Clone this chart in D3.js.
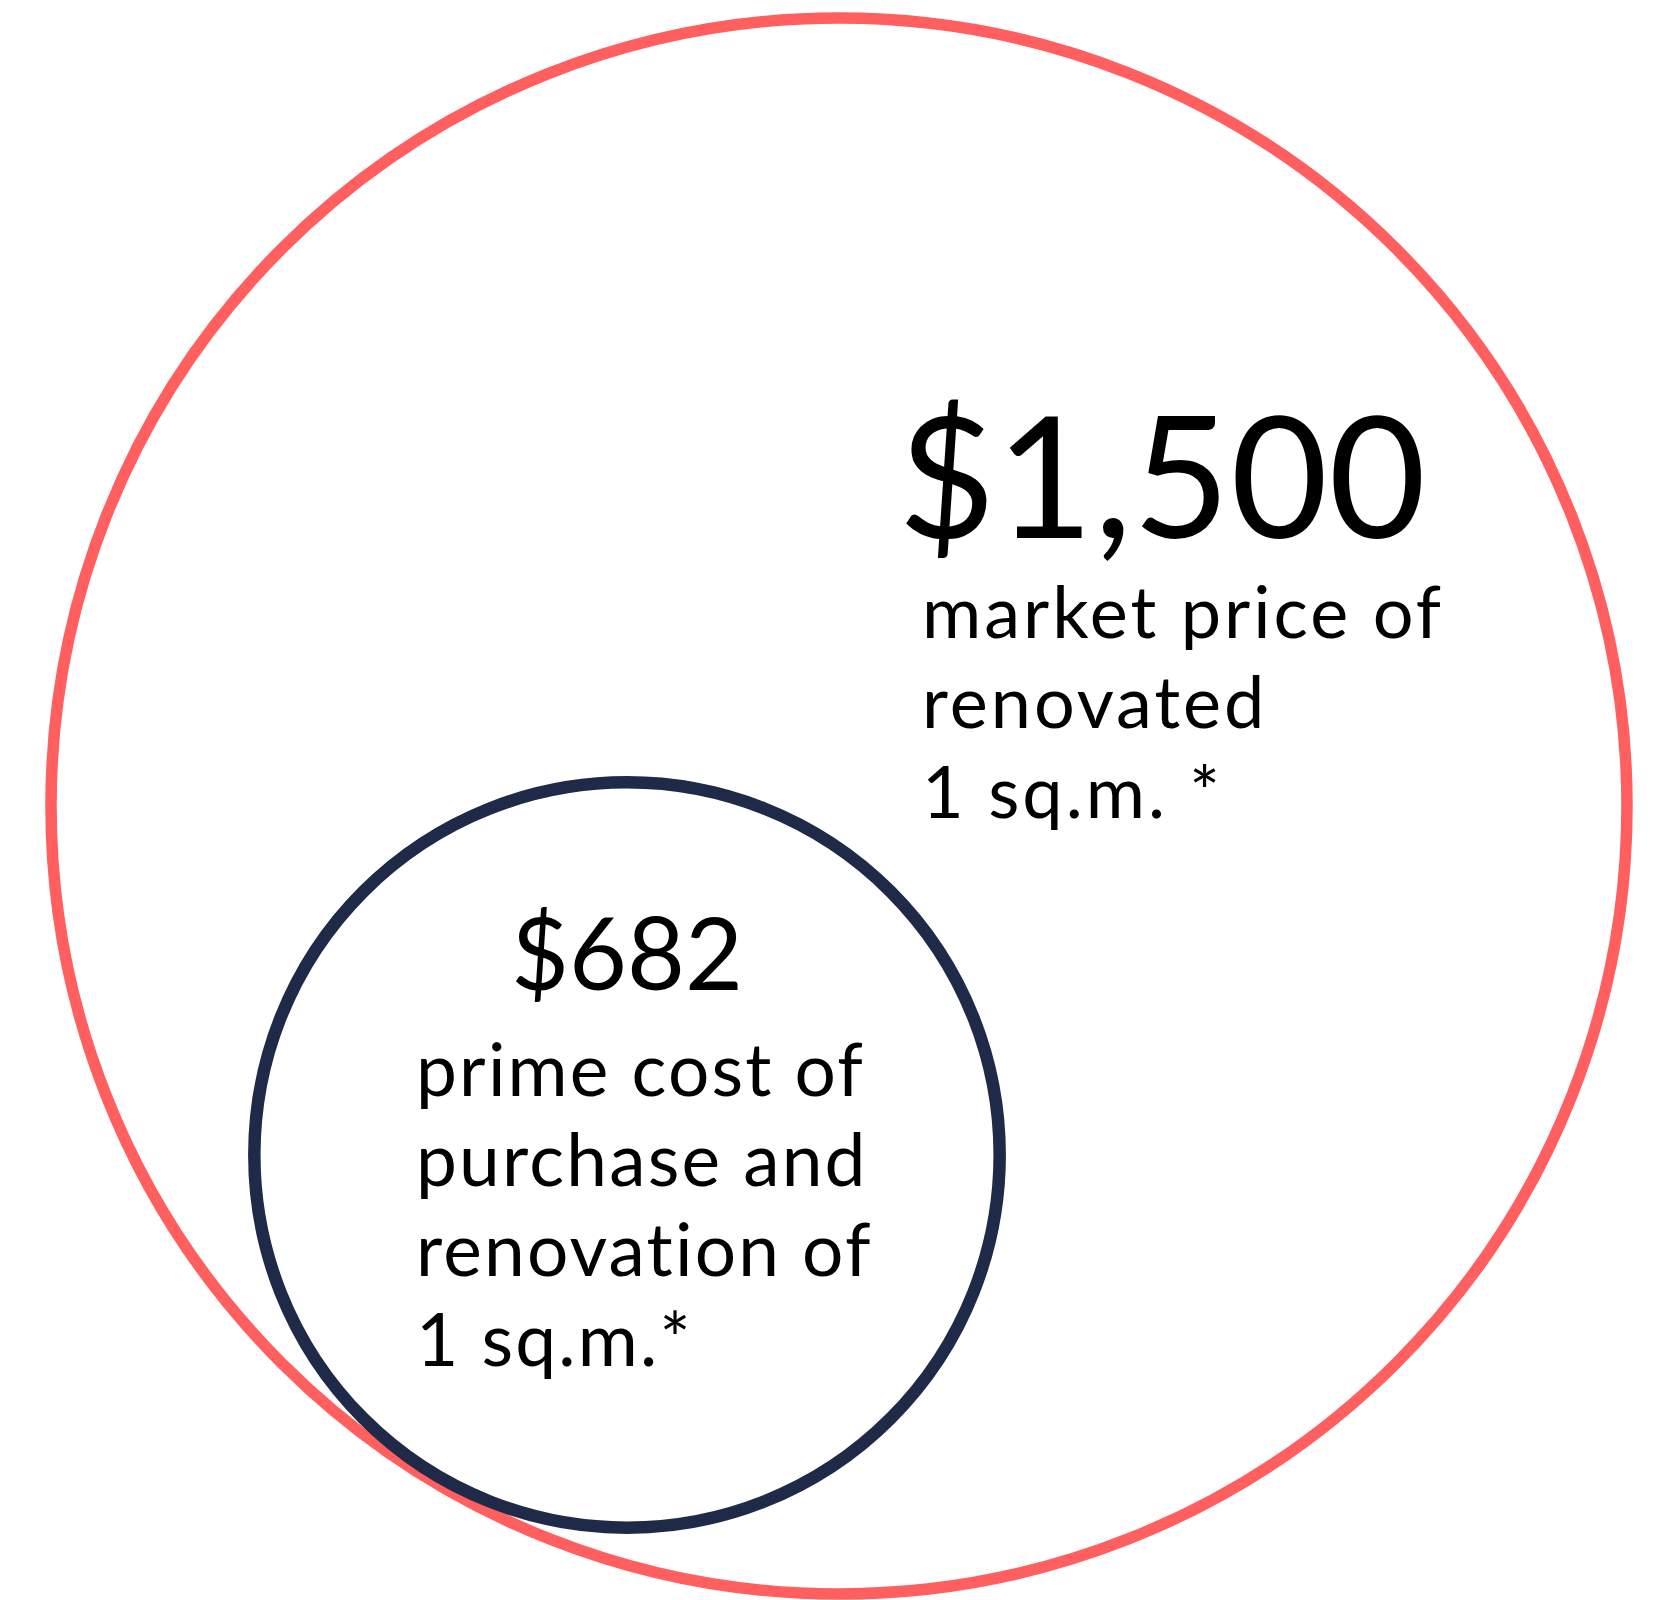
<!DOCTYPE html>
<html>
<head>
<meta charset="utf-8">
<script src="https://cdn.jsdelivr.net/npm/d3@7"></script>
<style>
  html, body { margin: 0; padding: 0; background: #fff; }
  svg { display: block; }
  text { font-family: Lato, "Noto Sans", sans-serif; font-weight: 400; fill: #000; }
</style>
</head>
<body>
<div id="chart"></div>
<script>
// values shown in the chart
const keys = ['market', 'cost'];
const values = [1500, 682];
const valueLabels = ['$1,500', '$682'];
const captions = [
  ['market price of', 'renovated', '1 sq.m. *'],
  ['prime cost of', 'purchase and', 'renovation of', '1 sq.m.*']
];
const colors = ['#ff5f5f', '#1f2a48'];

const width = 1665, height = 1600;

// layout for each bubble
const layout = {
  market: { cx: 839, cy: 806, stroke: 11.5,
            valueX: 898, valueY: 538, valueSize: 168, valueAnchor: 'start', valueSpacing: 0.5,
            capX: 922, capY: 638, capSize: 72, capSpacing: 3, lineGap: 90 },
  cost:   { cx: 627, cy: 1155, stroke: 12.5,
            valueX: 627, valueY: 990, valueSize: 100, valueAnchor: 'middle', valueSpacing: 0,
            capX: 416, capY: 1096, capSize: 73, capSpacing: 2.2, lineGap: 90 }
};

const r = d3.scalePow()
  .exponent(0.95)
  .domain([0, d3.max(values)])
  .range([0, 788]);

const data = keys.map((k, i) => ({
  key: k, value: values[i], label: valueLabels[i],
  lines: captions[i], color: colors[i], ...layout[k]
}));

const svg = d3.select('#chart')
  .append('svg')
  .attr('width', width)
  .attr('height', height);

svg.selectAll('circle')
  .data(data)
  .enter()
  .append('circle')
  .attr('cx', d => d.cx)
  .attr('cy', d => d.cy)
  .attr('r', d => r(d.value))
  .attr('fill', 'none')
  .attr('stroke', d => d.color)
  .attr('stroke-width', d => d.stroke);

// big numbers
svg.selectAll('.value')
  .data(data)
  .enter()
  .append('text')
  .attr('class', 'value')
  .attr('x', d => d.valueX)
  .attr('y', d => d.valueY)
  .attr('text-anchor', d => d.valueAnchor)
  .style('font-size', d => d.valueSize + 'px')
  .style('letter-spacing', d => d.valueSpacing + 'px')
  .text(d => d.label);

// captions under the numbers
const cap = svg.selectAll('.caption')
  .data(data)
  .enter()
  .append('text')
  .attr('class', 'caption')
  .style('font-size', d => d.capSize + 'px')
  .style('letter-spacing', d => d.capSpacing + 'px');

cap.selectAll('tspan')
  .data(d => d.lines.map((t, i) => ({ t, x: d.capX, y: d.capY + i * d.lineGap })))
  .enter()
  .append('tspan')
  .attr('x', d => d.x)
  .attr('y', d => d.y)
  .text(d => d.t);
</script>
</body>
</html>
